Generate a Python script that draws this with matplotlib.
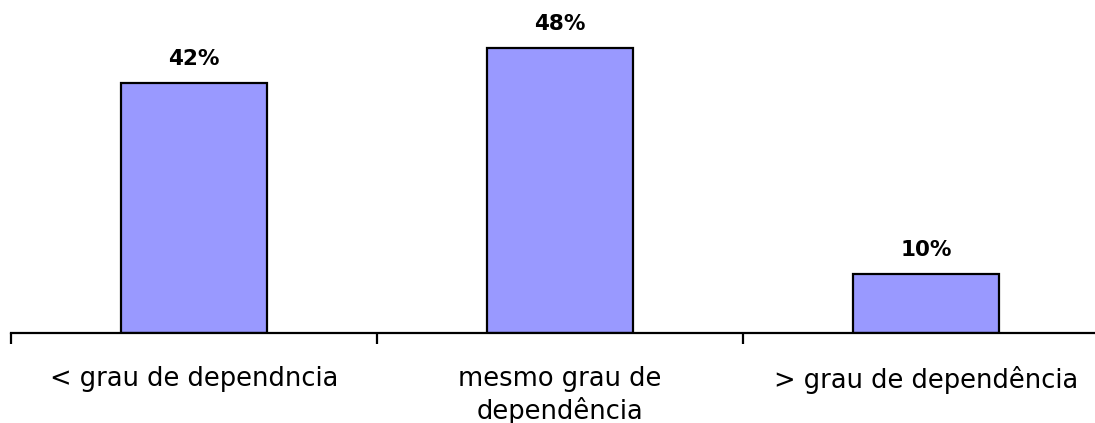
import matplotlib.pyplot as plt
import numpy as np

categorias = ['< grau de dependncia', 'mesmo grau de\ndependência', '> grau de dependência']
valores = [42, 48, 10]
rotulos = ['42%', '48%', '10%']

fig = plt.figure(figsize=(10.95, 4.23), dpi=100)
ax = fig.add_axes([11 / 1095, 1 - 333 / 423, 1098 / 1095, 333 / 423])

x = np.arange(len(categorias))
ax.bar(x, valores, width=0.4, color='#9999ff', edgecolor='black', linewidth=1.6, zorder=2)

for xi, v, r in zip(x, valores, rotulos):
    ax.annotate(r, (xi, v), xytext=(0, 10), textcoords='offset points',
                ha='center', va='bottom', fontsize=15.5, fontweight='bold')

ax.set_xlim(-0.5, len(categorias) - 0.5)
ax.set_ylim(0, 56)

# rótulos no centro das categorias, marcas nas divisões
ax.set_xticks(x)
ax.set_xticklabels(categorias, fontsize=18.5, linespacing=1.2)
ax.tick_params(axis='x', which='major', length=0, pad=24)
ax.set_xticks(np.arange(len(categorias) + 1) - 0.5, minor=True)
ax.tick_params(axis='x', which='minor', length=8, width=1.6, direction='out')
ax.set_yticks([])

for lado in ['top', 'right', 'left']:
    ax.spines[lado].set_visible(False)
ax.spines['bottom'].set_linewidth(1.6)

fig.savefig('out.png', dpi=100)
